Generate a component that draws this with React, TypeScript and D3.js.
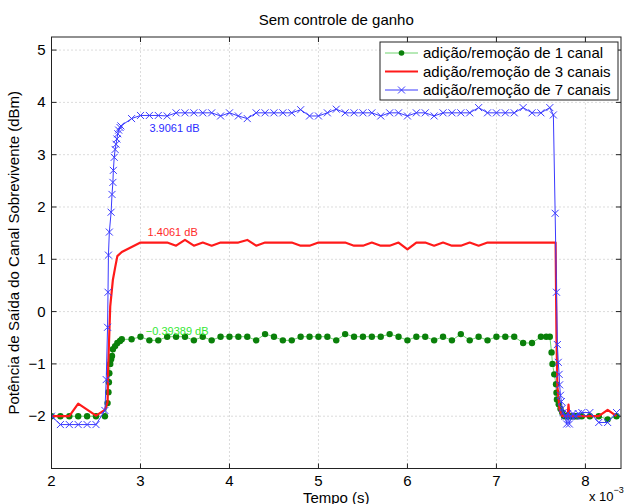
import React, { useEffect, useRef } from "react";
import * as d3 from "d3";

// tempo em ms (eixo multiplicado por 10^-3), potência em dBm
const canal1X = [
  2.0, 2.1, 2.2, 2.3, 2.4, 2.5, 2.6,
  2.63, 2.64, 2.645, 2.65, 2.66, 2.67, 2.68, 2.69, 2.715, 2.74, 2.77, 2.79,
  2.9, 3.0, 3.1, 3.2, 3.3, 3.4, 3.5, 3.6, 3.7, 3.8, 3.9, 4.0, 4.1, 4.2, 4.3, 4.4,
  4.5, 4.6, 4.7, 4.8, 4.9, 5.0, 5.1, 5.2, 5.3, 5.4, 5.5, 5.6, 5.7, 5.8, 5.9, 6.0,
  6.1, 6.2, 6.3, 6.4, 6.5, 6.6, 6.7, 6.8, 6.9, 7.0, 7.1, 7.2, 7.3, 7.4, 7.5, 7.56, 7.6,
  7.62, 7.63, 7.65, 7.67, 7.675, 7.68, 7.70, 7.72, 7.74, 7.76, 7.79, 7.81, 7.84, 7.86,
  7.89, 7.91, 7.96, 8.05, 8.15, 8.25, 8.35,
];
const canal1Y = [
  -2.0, -2.0, -2.0, -2.0, -2.0, -2.0, -2.0,
  -1.75, -1.54, -1.35, -1.18, -1.0, -0.91, -0.85, -0.72, -0.66, -0.6, -0.56, -0.53,
  -0.53, -0.48, -0.55, -0.55, -0.48, -0.48, -0.48, -0.55, -0.48, -0.55, -0.48, -0.48, -0.48, -0.48, -0.55, -0.43,
  -0.48, -0.55, -0.55, -0.48, -0.48, -0.48, -0.48, -0.55, -0.43, -0.48, -0.48, -0.48, -0.48, -0.43, -0.48, -0.55,
  -0.48, -0.48, -0.55, -0.48, -0.55, -0.43, -0.55, -0.48, -0.55, -0.48, -0.48, -0.48, -0.6, -0.6, -0.48, -0.48, -0.48,
  -0.78, -1.0, -1.2, -1.39, -1.55, -1.68, -1.77, -1.86, -1.93, -2.0, -2.0, -2.0, -2.0, -2.0,
  -2.0, -2.0, -2.0, -2.0, -2.0, -2.06, -2.0,
];

const canal3X = [
  2.0, 2.2, 2.3, 2.5, 2.6, 2.63, 2.637, 2.66, 2.69, 2.715, 2.74, 2.79,
  3.0, 3.1, 3.2, 3.3, 3.4, 3.5, 3.6, 3.7, 3.8, 3.9, 4.0, 4.1, 4.2, 4.3, 4.4,
  4.5, 4.6, 4.7, 4.8, 4.9, 5.0, 5.1, 5.2, 5.3, 5.4, 5.5, 5.6, 5.7, 5.8, 5.9, 6.0,
  6.1, 6.2, 6.3, 6.4, 6.5, 6.6, 6.7, 6.8, 6.9, 7.0, 7.1, 7.2, 7.3, 7.4, 7.5, 7.6, 7.665,
  7.675, 7.685, 7.71, 7.74, 7.80, 7.81, 7.82, 7.9, 8.0, 8.1, 8.15, 8.25, 8.35,
];
const canal3Y = [
  -2.0, -2.0, -1.76, -1.99, -1.88, -1.74, -1.05, 0.1, 0.61, 0.84, 1.06, 1.14,
  1.32, 1.32, 1.32, 1.32, 1.26, 1.37, 1.26, 1.32, 1.26, 1.32, 1.32, 1.32, 1.37, 1.26, 1.32,
  1.32, 1.32, 1.32, 1.26, 1.26, 1.32, 1.32, 1.32, 1.32, 1.26, 1.26, 1.32, 1.26, 1.26, 1.32, 1.19,
  1.32, 1.32, 1.26, 1.32, 1.26, 1.26, 1.32, 1.26, 1.32, 1.32, 1.32, 1.32, 1.32, 1.32, 1.32, 1.32, 1.32,
  -0.5, -1.43, -1.87, -2.0, -2.0, -1.78, -2.0, -2.0, -2.0, -2.0, -2.0, -1.88, -2.0,
];

const canal7X = [
  2.0, 2.1, 2.2, 2.3, 2.4, 2.5, 2.6,
  2.615, 2.63, 2.635, 2.64, 2.65, 2.67, 2.68, 2.69, 2.695, 2.705, 2.715, 2.725, 2.735,
  2.745, 2.755, 2.77, 2.78, 2.9,
  3.0, 3.1, 3.2, 3.3, 3.4, 3.5, 3.6, 3.7, 3.8, 3.9, 4.0, 4.1, 4.2, 4.3, 4.4,
  4.5, 4.6, 4.7, 4.8, 4.9, 5.0, 5.1, 5.2, 5.3, 5.4, 5.5, 5.6, 5.7, 5.8, 5.9, 6.0,
  6.1, 6.2, 6.3, 6.4, 6.5, 6.6, 6.7, 6.8, 6.9, 7.0, 7.1, 7.2, 7.3, 7.4, 7.5, 7.6, 7.64,
  7.66, 7.675, 7.685, 7.695, 7.705, 7.71, 7.72, 7.73, 7.74, 7.75, 7.77, 7.79, 7.80, 7.82,
  7.84, 7.86, 7.88, 7.90, 7.92, 7.96, 8.05, 8.15, 8.25, 8.35,
];
const canal7Y = [
  -2.0, -2.16, -2.16, -2.16, -2.16, -2.16, -1.89,
  -1.3, -0.3, 0.37, 1.08, 1.52, 1.9, 2.24, 2.47, 2.7, 2.95, 3.1, 3.2, 3.3,
  3.4, 3.47, 3.52, 3.55, 3.69,
  3.75, 3.75, 3.75, 3.74, 3.8, 3.8, 3.8, 3.8, 3.8, 3.74, 3.8, 3.74, 3.69, 3.8, 3.8,
  3.8, 3.8, 3.8, 3.86, 3.74, 3.74, 3.8, 3.87, 3.8, 3.8, 3.8, 3.8, 3.74, 3.8, 3.8, 3.74,
  3.8, 3.8, 3.74, 3.8, 3.8, 3.8, 3.8, 3.9, 3.8, 3.8, 3.8, 3.8, 3.9, 3.8, 3.8, 3.9, 3.76,
  1.88, 0.37, -0.63, -0.97, -1.2, -1.4, -1.6, -1.72, -1.85, -1.93, -2.0, -2.15, -1.95, -2.15,
  -2.0, -1.95, -2.0, -2.0, -1.95, -1.93, -1.93, -2.12, -2.12, -1.93,
];

const xTicks = [2, 3, 4, 5, 6, 7, 8];
const yTicks = [-2, -1, 0, 1, 2, 3, 4, 5];
const legendLabels = [
  "adição/remoção de 1 canal",
  "adição/remoção de 3 canais",
  "adição/remoção de 7 canais",
];
const annotations = [
  { text: "3.9061 dB", x: 3.1, y: 3.43, color: "#2b2bff" },
  { text: "1.4061 dB", x: 3.08, y: 1.45, color: "#ff2a2a" },
  { text: "\u22120.39389 dB", x: 3.06, y: -0.45, color: "#33e833" },
];

const W = 625;
const H = 504;
const FONT = "'Liberation Sans', Arial, Helvetica, sans-serif";

const App = () => {
  const svgRef = useRef<SVGSVGElement>(null);

  useEffect(() => {
    const svg = d3.select(svgRef.current);
    svg.selectAll("*").remove();

    const x = d3.scaleLinear().domain([2, 8.4]).range([51.5, 621]);
    const y = d3.scaleLinear().domain([-3, 5.25]).range([468.5, 37]);
    const [x0, x1] = x.range();
    const [y0, y1] = y.range();

    svg.append("rect").attr("width", W).attr("height", H).attr("fill", "#fff");

    // grid
    const grid = svg.append("g").attr("stroke", "#b8b8b8").attr("stroke-dasharray", "1,3");
    xTicks.forEach((t) => {
      grid.append("line").attr("x1", x(t)).attr("x2", x(t)).attr("y1", y0).attr("y2", y1);
    });
    yTicks.forEach((t) => {
      grid.append("line").attr("x1", x0).attr("x2", x1).attr("y1", y(t)).attr("y2", y(t));
    });

    // ticks inside, on all sides
    const ticks = svg.append("g").attr("stroke", "#222").attr("stroke-width", 1);
    xTicks.forEach((t) => {
      ticks.append("line").attr("x1", x(t)).attr("x2", x(t)).attr("y1", y0).attr("y2", y0 - 5);
      ticks.append("line").attr("x1", x(t)).attr("x2", x(t)).attr("y1", y1).attr("y2", y1 + 5);
    });
    yTicks.forEach((t) => {
      ticks.append("line").attr("x1", x0).attr("x2", x0 + 5).attr("y1", y(t)).attr("y2", y(t));
      ticks.append("line").attr("x1", x1).attr("x2", x1 - 5).attr("y1", y(t)).attr("y2", y(t));
    });

    const clip = svg.append("defs").append("clipPath").attr("id", "plotclip");
    clip.append("rect").attr("x", x0).attr("y", y1).attr("width", x1 - x0).attr("height", y0 - y1);
    const plot = svg.append("g").attr("clip-path", "url(#plotclip)");

    const line = d3
      .line<[number, number]>()
      .x((d) => x(d[0]))
      .y((d) => y(d[1]));

    const s1 = canal1X.map((v, i) => [v, canal1Y[i]] as [number, number]);
    const s3 = canal3X.map((v, i) => [v, canal3Y[i]] as [number, number]);
    const s7 = canal7X.map((v, i) => [v, canal7Y[i]] as [number, number]);

    // 1 canal
    plot.append("path").datum(s1).attr("d", line).attr("fill", "none")
      .attr("stroke", "#6fd36f").attr("stroke-width", 1);
    plot.selectAll("circle.c1").data(s1).join("circle").attr("class", "c1")
      .attr("cx", (d) => x(d[0])).attr("cy", (d) => y(d[1])).attr("r", 3.2)
      .attr("fill", "#0a800a");

    // 3 canais
    plot.append("path").datum(s3).attr("d", line).attr("fill", "none")
      .attr("stroke", "#ff1a1a").attr("stroke-width", 2.2).attr("stroke-linejoin", "round");

    // 7 canais
    plot.append("path").datum(s7).attr("d", line).attr("fill", "none")
      .attr("stroke", "#3a3aff").attr("stroke-width", 1);
    const cross = plot.append("g").attr("stroke", "#3a3aff").attr("stroke-width", 1);
    s7.forEach((d) => {
      const cx = x(d[0]);
      const cy = y(d[1]);
      cross.append("path").attr("d", `M${cx - 3.5},${cy - 3.5}L${cx + 3.5},${cy + 3.5}M${cx - 3.5},${cy + 3.5}L${cx + 3.5},${cy - 3.5}`);
    });

    // annotations
    annotations.forEach((a) => {
      svg.append("text").attr("x", x(a.x)).attr("y", y(a.y))
        .attr("fill", a.color).style("font-family", FONT).style("font-size", "11px")
        .text(a.text);
    });

    // box
    svg.append("rect").attr("x", x0).attr("y", y1).attr("width", x1 - x0).attr("height", y0 - y1)
      .attr("fill", "none").attr("stroke", "#222").attr("stroke-width", 1);

    // tick labels
    xTicks.forEach((t) => {
      svg.append("text").attr("x", x(t)).attr("y", y0 + 17).attr("text-anchor", "middle")
        .style("font-family", FONT).style("font-size", "15px").text(String(t));
    });
    yTicks.forEach((t) => {
      svg.append("text").attr("x", x0 - 6).attr("y", y(t) + 5).attr("text-anchor", "end")
        .style("font-family", FONT).style("font-size", "15px")
        .text(t < 0 ? "\u2212" + Math.abs(t) : String(t));
    });

    // title & labels
    svg.append("text").attr("x", (x0 + x1) / 2).attr("y", 25).attr("text-anchor", "middle")
      .style("font-family", FONT).style("font-size", "15px").text("Sem controle de ganho");
    svg.append("text").attr("x", (x0 + x1) / 2).attr("y", 502.5).attr("text-anchor", "middle")
      .style("font-family", FONT).style("font-size", "15px").text("Tempo (s)");
    svg.append("text").attr("transform", `translate(19,${(y0 + y1) / 2}) rotate(-90)`)
      .attr("text-anchor", "middle").style("font-family", FONT).style("font-size", "15px")
      .text("Potência de Saída do Canal Sobrevivente (dBm)");
    const exp = svg.append("text").attr("x", 589).attr("y", 501)
      .style("font-family", FONT).style("font-size", "13px");
    exp.append("tspan").text("x 10");
    exp.append("tspan").attr("dy", -8).style("font-size", "9px").text("\u22123");

    // legend
    const lg = svg.append("g");
    lg.append("rect").attr("x", 380).attr("y", 42).attr("width", 238).attr("height", 58)
      .attr("fill", "#fff").attr("stroke", "#222");
    legendLabels.forEach((lab, i) => {
      const ly = 53 + i * 18.5;
      if (i === 0) {
        lg.append("line").attr("x1", 385).attr("x2", 418).attr("y1", ly).attr("y2", ly)
          .attr("stroke", "#6fd36f");
        lg.append("circle").attr("cx", 401.5).attr("cy", ly).attr("r", 2.8).attr("fill", "#0a800a");
      } else if (i === 1) {
        lg.append("line").attr("x1", 385).attr("x2", 418).attr("y1", ly).attr("y2", ly)
          .attr("stroke", "#ff1a1a").attr("stroke-width", 2.2);
      } else {
        lg.append("line").attr("x1", 385).attr("x2", 418).attr("y1", ly).attr("y2", ly)
          .attr("stroke", "#3a3aff");
        lg.append("path").attr("d", `M398,${ly - 3.5}L405,${ly + 3.5}M398,${ly + 3.5}L405,${ly - 3.5}`)
          .attr("stroke", "#3a3aff");
      }
      lg.append("text").attr("x", 423).attr("y", ly + 5).style("font-family", FONT)
        .style("font-size", "15px").text(lab);
    });
  }, []);

  return (
    <svg
      ref={svgRef}
      width={W}
      height={H}
      style={{ position: "absolute", left: 0, top: 0 }}
    ></svg>
  );
};

export default App;
